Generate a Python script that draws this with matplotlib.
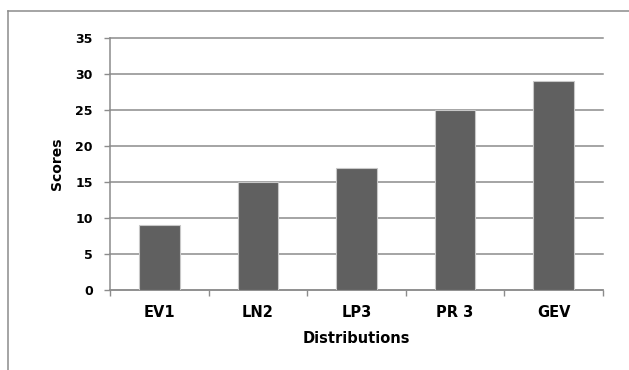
import matplotlib
matplotlib.use('Agg')
from matplotlib import pyplot as plt
from matplotlib.lines import Line2D

distributions = ['EV1', 'LN2', 'LP3', 'PR 3', 'GEV']
scores = [9, 15, 17, 25, 29]
y_ticks = [0, 5, 10, 15, 20, 25, 30, 35]

plt.rcParams['font.family'] = ['DejaVu Sans']
W, H = 629, 370
fig = plt.figure(figsize=(W / 100, H / 100), dpi=100)
ax = fig.add_axes([110 / W, 1 - 290 / H, (603 - 110) / W, (290 - 38) / H])

x = range(len(distributions))
ax.bar(x, scores, width=0.41, color='#606060', edgecolor='#c8c8c8',
       linewidth=0.8, zorder=3)

ax.set_xlim(-0.5, len(distributions) - 0.5)
ax.set_ylim(0, 35)
ax.set_yticks(y_ticks)
ax.yaxis.grid(True, color='#8c8c8c', linewidth=1.1, zorder=0)
ax.set_axisbelow(True)
# keep the top gridline at full width instead of half clipped
for gl in ax.get_ygridlines():
    gl.set_clip_on(False)

ax.set_xticks(list(x))
ax.set_xticklabels(distributions, fontsize=10.5, fontweight='bold')
ax.set_xticks([i + 0.5 for i in range(-1, len(distributions))], minor=True)
ax.tick_params(axis='x', which='major', length=0, pad=11)
ax.tick_params(axis='x', which='minor', length=4.5, color='#8c8c8c', width=1)
ax.tick_params(axis='y', length=4.5, color='#8c8c8c', width=1, pad=8,
               labelsize=9)
for lbl in ax.get_yticklabels():
    lbl.set_fontweight('bold')

for side in ['top', 'right']:
    ax.spines[side].set_visible(False)
for side in ['left', 'bottom']:
    ax.spines[side].set_color('#8c8c8c')
    ax.spines[side].set_linewidth(1.1)

ax.set_xlabel('Distributions', fontsize=10.5, fontweight='bold', labelpad=8)
ax.set_ylabel('Scores', fontsize=10, fontweight='bold', labelpad=8)

# outer chart frame, only the top and left edges fall inside the canvas
fig.add_artist(Line2D([8 / W, 8 / W], [0, 1 - 11 / H], color='#8c8c8c',
                      linewidth=1.1))
fig.add_artist(Line2D([8 / W, 1], [1 - 11 / H, 1 - 11 / H], color='#8c8c8c',
                      linewidth=1.1))

fig.savefig('out.png', dpi=100, facecolor='white')
